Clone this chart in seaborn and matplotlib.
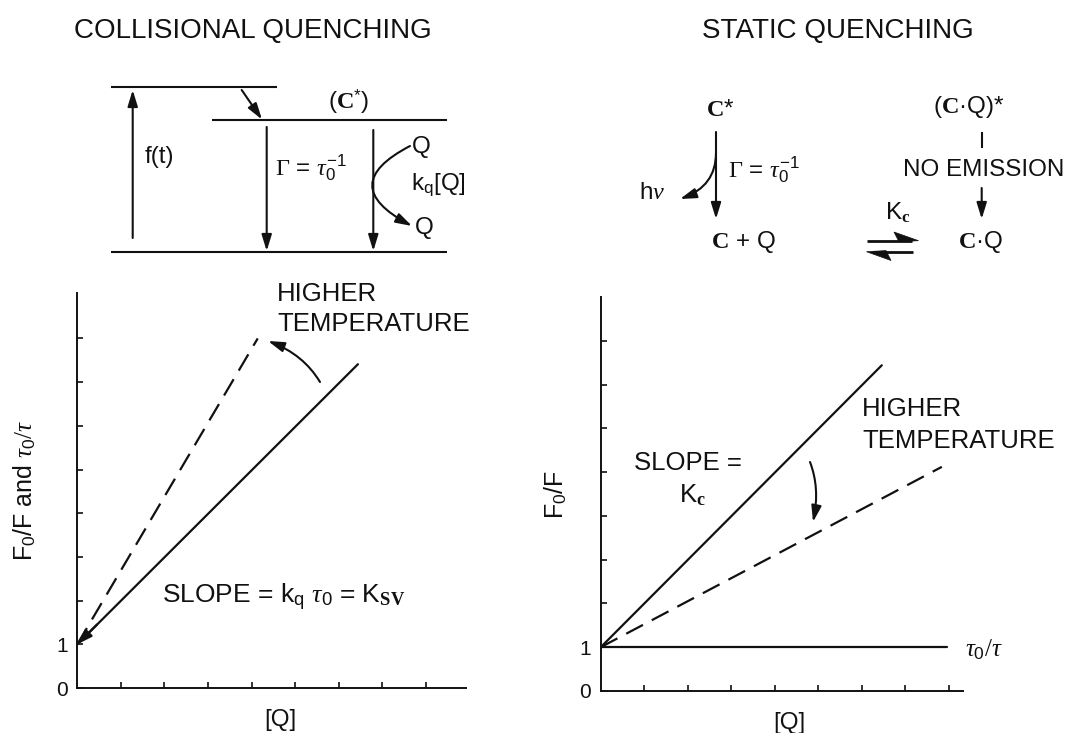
import matplotlib
matplotlib.use("Agg")
import matplotlib.pyplot as plt
import pandas as pd
import seaborn as sns
from matplotlib.patches import FancyArrowPatch, Polygon
from matplotlib.path import Path

# ---- data: quenching plots (F0/F against [Q]) ----
coll_q_solid = [0.0, 6.44]
coll_f_solid = [1.0, 7.41]
coll_q_hot = [0.0, 4.14]
coll_f_hot = [1.0, 8.00]

stat_q_solid = [0.0, 6.46]
stat_f_solid = [1.0, 7.44]
stat_q_hot = [0.0, 7.84]
stat_f_hot = [1.0, 5.12]
stat_q_tau = [0.0, 7.95]
stat_f_tau = [1.0, 1.0]

ytick_values = [0, 1, 2, 3, 4, 5, 6, 7, 8]
ytick_labels = ["0", "1", "", "", "", "", "", "", ""]
xtick_values = [1, 2, 3, 4, 5, 6, 7, 8]

sns.set_style("white")
plt.rcParams["font.family"] = ["Liberation Sans", "DejaVu Sans"]
plt.rcParams["mathtext.fontset"] = "custom"
plt.rcParams["mathtext.rm"] = "Liberation Serif"
plt.rcParams["mathtext.it"] = "Liberation Serif:italic"
plt.rcParams["mathtext.bf"] = "Liberation Serif:bold"
plt.rcParams["mathtext.sf"] = "Liberation Sans"

INK = "#111111"
LW = 1.6
DASH = (0, (8.5, 4.5))

W, H = 1081, 733
fig = plt.figure(figsize=(W / 100, H / 100), dpi=100)
fig.patch.set_facecolor("white")

ax_l = fig.add_axes([77.3 / W, 45 / H, 388.7 / W, 395 / H])
ax_r = fig.add_axes([600.7 / W, 42 / H, 362 / W, 394 / H])


def line(ax, q, f, dashed=False):
    df = pd.DataFrame({"q": q, "f": f})
    kws = dict(color=INK, lw=LW)
    if dashed:
        kws["linestyle"] = DASH
    sns.lineplot(data=df, x="q", y="f", ax=ax, sort=False, **kws)


def style_axes(ax, xmax, ymax, ylabel, ylab_x, xlab_x):
    ax.set_xlim(0, xmax)
    ax.set_ylim(0, ymax)
    sns.despine(ax=ax)
    for s in ("left", "bottom"):
        ax.spines[s].set_color(INK)
        ax.spines[s].set_linewidth(1.4)
    ax.set_yticks(ytick_values)
    ax.set_yticklabels(ytick_labels)
    ax.set_xticks(xtick_values)
    ax.set_xticklabels([])
    ax.tick_params(left=True, bottom=True, direction="in", length=4.5,
                   width=1.2, colors=INK, labelsize=15, pad=7)
    ax.set_facecolor("none")
    ax.set_xlabel("[Q]", fontsize=17.5, color=INK)
    ax.set_ylabel(ylabel, fontsize=18, color=INK)
    ax.xaxis.set_label_coords(xlab_x, -0.081)
    ax.xaxis.label.set_va("center")
    ax.yaxis.set_label_coords(ylab_x, 0.5)
    ax.yaxis.label.set_va("center")


# collisional quenching plot
line(ax_l, coll_q_solid, coll_f_solid)
line(ax_l, coll_q_hot, coll_f_hot, dashed=True)
style_axes(ax_l, 8.92, 9.04, r"F$_\mathsf{0}$/F and $\tau_\mathsf{0}/\tau$", -0.1345, 0.5215)
ax_l.annotate("", xy=(coll_q_solid[0], coll_f_solid[0]), xytext=(0.45, 1.45),
              arrowprops=dict(arrowstyle="-|>,head_length=0.6,head_width=0.2",
                              mutation_scale=15, color=INK, lw=LW,
                              shrinkA=0, shrinkB=0))

# static quenching plot
line(ax_r, stat_q_solid, stat_f_solid)
line(ax_r, stat_q_hot, stat_f_hot, dashed=True)
line(ax_r, stat_q_tau, stat_f_tau)
style_axes(ax_r, 8.32, 9.0, r"F$_\mathsf{0}$/F", -0.1235, 0.52)

# ---- overlay for schemes and annotations (pixel coordinates) ----
ov = fig.add_axes([0, 0, 1, 1])
ov.set_xlim(0, W)
ov.set_ylim(H, 0)
ov.axis("off")
ov.set_facecolor("none")

AH = "-|>,head_length=0.65,head_width=0.2"


def seg(x0, y0, x1, y1, lw=1.5):
    ov.plot([x0, x1], [y0, y1], color=INK, lw=lw, solid_capstyle="butt")


def arrow(x0, y0, x1, y1):
    ov.add_patch(FancyArrowPatch((x0, y0), (x1, y1), arrowstyle=AH,
                                 mutation_scale=15, color=INK, lw=1.5,
                                 shrinkA=0, shrinkB=0))


def curved_arrow(p0, pc, p1):
    path = Path([p0, pc, p1], [Path.MOVETO, Path.CURVE3, Path.CURVE3])
    ov.add_patch(FancyArrowPatch(path=path, arrowstyle=AH, mutation_scale=15,
                                 color=INK, lw=1.5))


def txt(x, y, s, size=17.5, ha="left"):
    ov.text(x, y, s, fontsize=size, ha=ha, va="center", color=INK)


# titles
txt(253, 31, "COLLISIONAL QUENCHING", size=20, ha="center")
txt(838, 31, "STATIC QUENCHING", size=20, ha="center")

# collisional scheme
seg(110.7, 87.3, 276.7, 87.3)
seg(212.3, 120.0, 447.3, 120.0)
seg(110.7, 252.3, 447.3, 252.3)
arrow(132.7, 238, 132.7, 90)
arrow(241.7, 90, 262.0, 119.5)
arrow(266.7, 127, 266.7, 251)
arrow(373.3, 130, 373.3, 251)
curved_arrow((410, 146), (335, 185), (412, 226))
txt(145, 157, "f(t)")
txt(349, 102, r"($\mathbf{C}^{\mathsf{*}}$)", ha="center")
txt(275, 168, r"$\Gamma$ = $\tau_{\mathsf{0}}^{\mathsf{-1}}$")
txt(421, 147, "Q", ha="center")
txt(424, 228, "Q", ha="center")
txt(411, 185, r"k$_\mathsf{q}$[Q]")

# static scheme
txt(706, 110, r"$\mathbf{C}$*")
arrow(716, 132, 716, 219)
curved_arrow((716, 153), (716, 186), (680, 199))
txt(652, 193, r"h$\nu$", ha="center")
txt(728, 170, r"$\Gamma$ = $\tau_{\mathsf{0}}^{\mathsf{-1}}$")
txt(711, 242, r"$\mathbf{C}$ + Q")
txt(933, 107, r"($\mathbf{C}$·Q)*")
seg(981.7, 132, 981.7, 148)
txt(984, 170, "NO EMISSION", ha="center")
arrow(981.7, 188, 981.7, 219)
txt(958, 242, r"$\mathbf{C}$·Q")
txt(885, 213, r"K$_\mathbf{c}$")
# equilibrium harpoons
seg(866.7, 240.7, 912.0, 240.7, lw=2)
ov.add_patch(Polygon([(918.5, 240.7), (894, 232.0), (899, 241.8)],
                     closed=True, color=INK, lw=0.5))
seg(872.0, 251.7, 913.3, 251.7, lw=2)
ov.add_patch(Polygon([(866.5, 251.7), (891, 260.5), (886, 250.6)],
                     closed=True, color=INK, lw=0.5))

# collisional plot annotations
txt(277, 294, "HIGHER", size=18.5)
txt(277, 324, "TEMPERATURE", size=18.5)
curved_arrow((320, 382), (303.5, 354.5), (268, 341))
txt(162, 597, r"SLOPE = k$_\mathsf{q}$ $\tau_\mathsf{0}$ = K$_{\mathbf{SV}}$", size=19)

# static plot annotations
txt(862, 409, "HIGHER", size=18.5)
txt(862, 441, "TEMPERATURE", size=18.5)
curved_arrow((810, 462), (820, 488), (813, 522))
txt(688, 463, "SLOPE =", size=18.5, ha="center")
txt(692, 495, r"K$_\mathbf{c}$", size=18.5, ha="center")
txt(965, 650, r"$\tau_\mathsf{0}/\tau$", size=18)

fig.savefig("out.png", dpi=100, facecolor="white")
